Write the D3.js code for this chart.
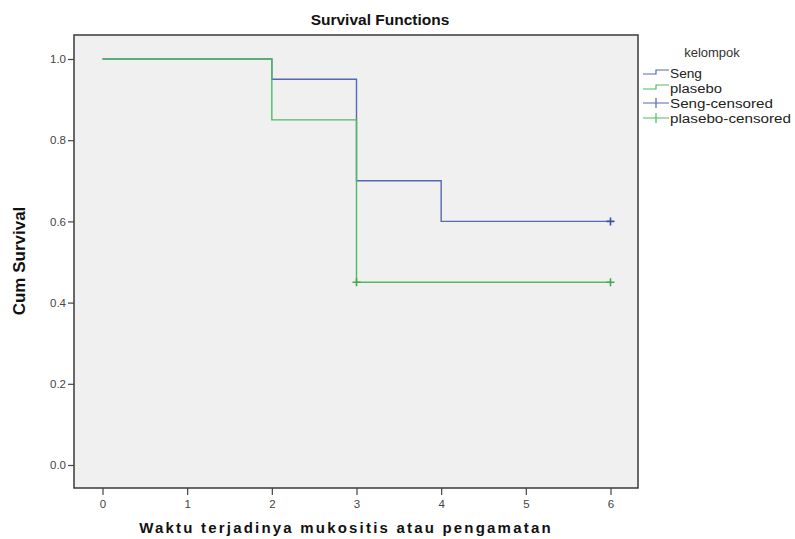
<!DOCTYPE html>
<html>
<head>
<meta charset="utf-8">
<script src="https://cdn.jsdelivr.net/npm/d3@7"></script>
<style>
  body { margin: 0; background: #fff; }
  svg text { font-family: "Liberation Sans", Arial, sans-serif; }
</style>
</head>
<body>
<div id="chart"></div>
<script>
// Survival data
var sengTimes = [0, 2, 3, 4, 6];
var sengSurv = [1.0, 0.95, 0.70, 0.60, 0.60];
var plaseboTimes = [0, 2, 3, 6];
var plaseboSurv = [1.0, 0.85, 0.45, 0.45];
var sengCensorTimes = [6];
var sengCensorSurv = [0.60];
var plaseboCensorTimes = [3, 6];
var plaseboCensorSurv = [0.45, 0.45];

var xTicks = [0, 1, 2, 3, 4, 5, 6];
var yTicks = [0.0, 0.2, 0.4, 0.6, 0.8, 1.0];
var legendLabels = ["Seng", "plasebo", "Seng-censored", "plasebo-censored"];

var width = 795, height = 539;
var blue = "#5468b4", green = "#4cbb63";

var svg = d3.select("#chart")
  .append("svg")
    .attr("width", width)
    .attr("height", height);

// frame
var frame = {left: 74, right: 638, top: 35, bottom: 488};

var x = d3.scaleLinear()
  .domain([0, 6])
  .range([102.5, 610.5]);

var y = d3.scaleLinear()
  .domain([0, 1])
  .range([465, 59]);

svg.append("rect")
  .attr("x", frame.left)
  .attr("y", frame.top)
  .attr("width", frame.right - frame.left)
  .attr("height", frame.bottom - frame.top)
  .attr("fill", "#f0f0f0")
  .attr("stroke", "#3a3a3a")
  .attr("stroke-width", 1.5);

// axes
var yAxis = svg.append("g")
  .attr("transform", `translate(${frame.left},0)`)
  .call(d3.axisLeft(y).tickValues(yTicks).tickFormat(d3.format(".1f")).tickSize(6).tickPadding(2));

var xAxis = svg.append("g")
  .attr("transform", `translate(0,${frame.bottom})`)
  .call(d3.axisBottom(x).tickValues(xTicks).tickFormat(d3.format("d")).tickSize(7).tickPadding(5));

[xAxis, yAxis].forEach(function(a) {
  a.select(".domain").remove();
  a.selectAll("line").attr("stroke", "#444").attr("stroke-width", 1.2);
  a.selectAll("text")
    .attr("fill", "#444")
    .style("font-size", "11.5px");
});

// step lines
var line = d3.line()
  .x(function(d) { return x(d[0]); })
  .y(function(d) { return y(d[1]); })
  .curve(d3.curveStepAfter);

var series = [
  {times: sengTimes, surv: sengSurv, color: blue},
  {times: plaseboTimes, surv: plaseboSurv, color: green}
];

series.forEach(function(s) {
  var pts = s.times.map(function(t, i) { return [t, s.surv[i]]; });
  svg.append("path")
    .attr("d", line(pts))
    .attr("fill", "none")
    .attr("stroke", s.color)
    .attr("stroke-width", 1.4);
});

// censored marks
var censors = [
  {times: sengCensorTimes, surv: sengCensorSurv, color: "#3b4f9e"},
  {times: plaseboCensorTimes, surv: plaseboCensorSurv, color: "#3fa955"}
];

censors.forEach(function(c) {
  var pts = c.times.map(function(t, i) { return [t, c.surv[i]]; });
  svg.append("g").selectAll("path")
    .data(pts)
    .enter().append("path")
      .attr("d", function(d) {
        var cx = x(d[0]), cy = y(d[1]);
        return `M${cx - 4},${cy}H${cx + 4}M${cx},${cy - 4}V${cy + 4}`;
      })
      .attr("stroke", c.color)
      .attr("stroke-width", 1.6);
});

// title
svg.append("text")
  .attr("x", 380)
  .attr("y", 25)
  .attr("text-anchor", "middle")
  .style("font-size", "15.5px")
  .style("font-weight", "bold")
  .attr("fill", "#111")
  .text("Survival Functions");

// axis titles
svg.append("text")
  .attr("transform", "translate(25,261) rotate(-90)")
  .attr("text-anchor", "middle")
  .style("font-size", "17px")
  .style("font-weight", "bold")
  .attr("fill", "#111")
  .text("Cum Survival");

svg.append("text")
  .attr("x", 346)
  .attr("y", 533)
  .attr("text-anchor", "middle")
  .style("font-size", "15px")
  .style("font-weight", "bold")
  .style("letter-spacing", "2.2px")
  .attr("fill", "#111")
  .text("Waktu terjadinya mukositis atau pengamatan");

// legend
svg.append("text")
  .attr("x", 712)
  .attr("y", 57)
  .attr("text-anchor", "middle")
  .style("font-size", "13px")
  .attr("fill", "#333")
  .text("kelompok");

var legendColors = [blue, green, blue, green];
var legendWidths = [32, 52, 103, 121];
var lg = svg.append("g").selectAll("g")
  .data(legendLabels)
  .enter().append("g")
    .attr("transform", function(d, i) { return `translate(643,${73 + i * 15})`; });

lg.append("path")
  .attr("d", function(d, i) {
    if (i < 2) return "M0,1H13V-3H26";
    return "M0,0H26M13,-5V5";
  })
  .attr("fill", "none")
  .attr("stroke", function(d, i) { return legendColors[i]; })
  .attr("stroke-width", 1.2);

lg.append("text")
  .attr("x", 27)
  .attr("y", 4.5)
  .attr("textLength", function(d, i) { return legendWidths[i]; })
  .attr("lengthAdjust", "spacingAndGlyphs")
  .style("font-size", "12.5px")
  .attr("fill", "#222")
  .text(function(d) { return d; });
</script>
</body>
</html>
